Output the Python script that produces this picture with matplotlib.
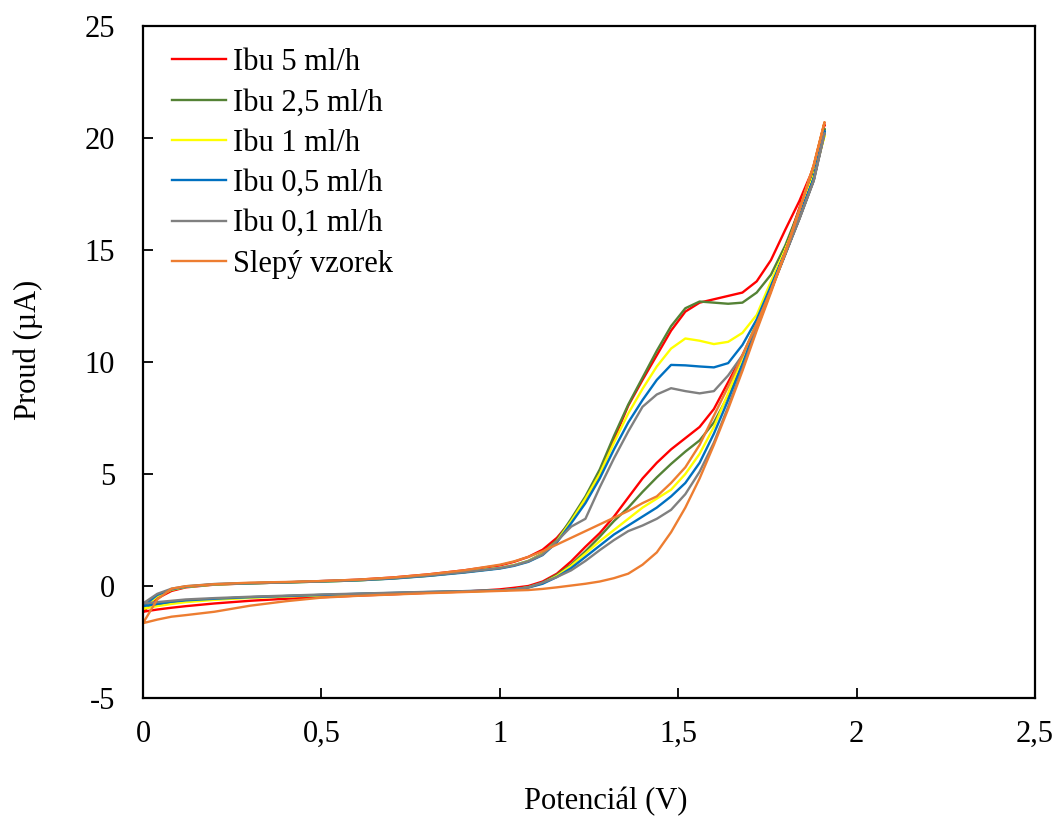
import matplotlib
matplotlib.use("Agg")
import matplotlib.pyplot as plt
import numpy as np

plt.rcParams['font.family'] = ['Liberation Serif', 'DejaVu Serif']
plt.rcParams['axes.unicode_minus'] = False

# potential grid (V), forward scan; the reverse scan is read on the same grid
potential = [0, 0.04, 0.08, 0.12, 0.2, 0.3, 0.4, 0.5, 0.6, 0.7, 0.8, 0.9, 1.0,
             1.04, 1.08, 1.12, 1.16, 1.2, 1.24, 1.28, 1.32, 1.36, 1.40, 1.44,
             1.48, 1.52, 1.56, 1.60, 1.64, 1.68, 1.72, 1.76, 1.80, 1.84, 1.88, 1.91]

ibu5_fwd = [-1.15, -0.55, -0.22, -0.06, 0.06, 0.12, 0.16, 0.22, 0.28, 0.38, 0.52, 0.7, 0.92,
            1.08, 1.3, 1.62, 2.15, 2.9, 3.9, 5.0, 6.55, 8.05, 9.2, 10.3,
            11.4, 12.25, 12.65, 12.8, 12.95, 13.1, 13.6, 14.55, 15.9, 17.2, 18.7, 20.6]
ibu5_rev = [-1.15, -1.05, -0.97, -0.9, -0.78, -0.66, -0.57, -0.5, -0.43, -0.37, -0.3, -0.25, -0.15,
            -0.08, 0.0, 0.2, 0.55, 1.1, 1.75, 2.36, 3.1, 3.95, 4.8, 5.5,
            6.1, 6.6, 7.1, 7.9, 9.1, 10.3, 11.5, 13.2, 15.0, 16.9, 18.6, 20.6]

ibu25_fwd = [-1.0, -0.45, -0.17, -0.04, 0.07, 0.12, 0.16, 0.2, 0.25, 0.34, 0.46, 0.62, 0.8,
             0.93, 1.12, 1.45, 2.05, 3.0, 4.0, 5.2, 6.7, 8.1, 9.3, 10.5,
             11.6, 12.4, 12.7, 12.65, 12.6, 12.65, 13.1, 13.9, 15.2, 16.8, 18.4, 20.4]
ibu25_rev = [-1.0, -0.85, -0.72, -0.65, -0.58, -0.5, -0.45, -0.4, -0.36, -0.32, -0.28, -0.24, -0.2,
             -0.15, -0.05, 0.15, 0.5, 0.95, 1.55, 2.2, 2.9, 3.5, 4.2, 4.85,
             5.45, 6.0, 6.5, 7.3, 8.5, 9.9, 11.5, 13.2, 14.9, 16.7, 18.4, 20.4]

ibu1_fwd = [-1.02, -0.45, -0.17, -0.04, 0.07, 0.12, 0.16, 0.2, 0.25, 0.34, 0.46, 0.62, 0.8,
            0.93, 1.1, 1.42, 2.0, 2.9, 3.9, 5.0, 6.4, 7.7, 8.8, 9.8,
            10.6, 11.05, 10.95, 10.8, 10.9, 11.3, 12.1, 13.6, 15.0, 16.6, 18.3, 20.1]
ibu1_rev = [-1.02, -0.9, -0.8, -0.72, -0.62, -0.53, -0.47, -0.42, -0.37, -0.33, -0.29, -0.25, -0.2,
            -0.15, -0.06, 0.12, 0.45, 0.9, 1.45, 2.0, 2.5, 3.0, 3.5, 3.9,
            4.3, 5.0, 5.9, 7.1, 8.6, 10.2, 11.8, 13.5, 15.0, 16.6, 18.3, 20.1]

ibu05_fwd = [-0.9, -0.4, -0.15, -0.03, 0.08, 0.12, 0.16, 0.2, 0.25, 0.33, 0.45, 0.6, 0.78,
             0.9, 1.08, 1.38, 1.95, 2.8, 3.7, 4.8, 6.1, 7.3, 8.3, 9.2,
             9.87, 9.85, 9.8, 9.76, 9.95, 10.76, 11.9, 13.4, 14.9, 16.5, 18.2, 20.3]
ibu05_rev = [-0.9, -0.8, -0.7, -0.64, -0.57, -0.5, -0.45, -0.4, -0.35, -0.31, -0.27, -0.23, -0.2,
             -0.15, -0.07, 0.1, 0.4, 0.8, 1.3, 1.8, 2.3, 2.7, 3.1, 3.5,
             4.0, 4.6, 5.5, 6.8, 8.3, 9.9, 11.6, 13.3, 14.9, 16.5, 18.2, 20.3]

ibu01_fwd = [-0.78, -0.35, -0.12, -0.01, 0.09, 0.13, 0.17, 0.22, 0.27, 0.35, 0.47, 0.62, 0.8,
             0.92, 1.1, 1.4, 2.0, 2.65, 3.0, 4.4, 5.7, 6.9, 8.0, 8.55,
             8.83, 8.7, 8.6, 8.7, 9.4, 10.3, 11.7, 13.2, 14.8, 16.4, 18.1, 20.2]
ibu01_rev = [-0.78, -0.72, -0.66, -0.6, -0.54, -0.48, -0.43, -0.38, -0.34, -0.3, -0.26, -0.23, -0.2,
             -0.15, -0.06, 0.15, 0.4, 0.7, 1.12, 1.6, 2.05, 2.45, 2.7, 3.0,
             3.4, 4.1, 5.1, 6.4, 8.0, 9.7, 11.5, 13.2, 14.8, 16.4, 18.1, 20.2]

blank_fwd = [-1.66, -0.6, -0.12, -0.01, 0.08, 0.15, 0.18, 0.22, 0.28, 0.38, 0.52, 0.7, 0.95,
             1.1, 1.3, 1.55, 1.85, 2.15, 2.45, 2.75, 3.05, 3.35, 3.7, 4.0,
             4.6, 5.3, 6.3, 7.6, 8.9, 10.3, 11.7, 13.2, 14.9, 16.8, 18.8, 20.7]
blank_rev = [-1.66, -1.5, -1.37, -1.3, -1.15, -0.88, -0.68, -0.52, -0.44, -0.38, -0.32, -0.27, -0.22,
             -0.2, -0.18, -0.13, -0.06, 0.02, 0.1, 0.2, 0.35, 0.55, 0.95, 1.5,
             2.4, 3.5, 4.8, 6.3, 7.9, 9.6, 11.4, 13.1, 14.9, 16.8, 18.8, 20.7]

labels = ["Ibu 5 ml/h", "Ibu 2,5 ml/h", "Ibu 1 ml/h", "Ibu 0,5 ml/h", "Ibu 0,1 ml/h", "Slepý vzorek"]
colors = ["#FF0000", "#548235", "#FFFF00", "#0070C0", "#808080", "#ED7D31"]
fwd_data = [ibu5_fwd, ibu25_fwd, ibu1_fwd, ibu05_fwd, ibu01_fwd, blank_fwd]
rev_data = [ibu5_rev, ibu25_rev, ibu1_rev, ibu05_rev, ibu01_rev, blank_rev]

x_ticks = [0, 0.5, 1, 1.5, 2, 2.5]
x_ticklabels = ["0", "0,5", "1", "1,5", "2", "2,5"]
y_ticks = [-5, 0, 5, 10, 15, 20, 25]

fig = plt.figure(figsize=(10.58, 8.16), dpi=100)
ax = fig.add_axes([143 / 1058, 1 - 698 / 816, 892 / 1058, 672 / 816])

E = np.array(potential)
for lab, col, f, r in zip(labels, colors, fwd_data, rev_data):
    # forward scan up, then back down along the reverse branch
    xs = np.concatenate([E, E[::-1]])
    ys = np.concatenate([np.array(f), np.array(r)[::-1]])
    ax.plot(xs, ys, color=col, lw=1.7, label=lab)

ax.set_xlim(0, 2.5)
ax.set_ylim(-5, 25)
ax.set_xticks(x_ticks)
ax.set_xticklabels(x_ticklabels)
ax.set_yticks(y_ticks)
ax.tick_params(direction="in", length=7, width=1.3, labelsize=22, colors="black")
ax.tick_params(axis="x", pad=16)
ax.tick_params(axis="y", pad=20)
for s in ax.spines.values():
    s.set_linewidth(1.6)

ax.set_xlabel("Potenciál (V)", fontsize=22)
ax.set_ylabel("Proud (µA)", fontsize=22)
ax.xaxis.set_label_coords((606 - 143) / 892, (698 - 787) / 672)
ax.yaxis.set_label_coords((43 - 143) / 892, (698 - 350) / 672)

ax.legend(loc="upper left", bbox_to_anchor=(0.009, 0.999), frameon=False, fontsize=22,
          handlelength=1.75, handletextpad=0.22, labelspacing=0.37, borderpad=0.2)

fig.savefig("out.png", dpi=100)
